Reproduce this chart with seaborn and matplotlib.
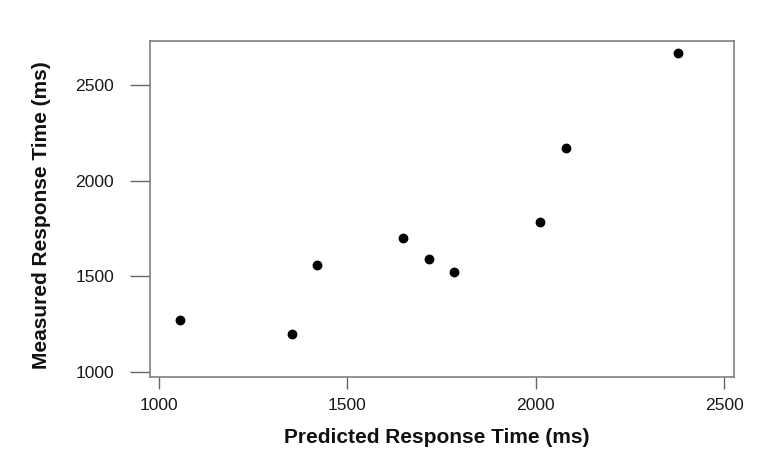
import matplotlib
matplotlib.use("Agg")
import matplotlib.pyplot as plt
import seaborn as sns
import pandas as pd

predicted = [1056, 1352, 1418, 1648, 1716, 1782, 2011, 2080, 2377]
measured = [1271, 1198, 1560, 1698, 1591, 1521, 1785, 2170, 2665]
x_ticks = [1000, 1500, 2000, 2500]
y_ticks = [1000, 1500, 2000, 2500]

df = pd.DataFrame({"Predicted": predicted, "Measured": measured})

sns.set_theme(style="ticks")
plt.rcParams["font.family"] = ["Liberation Sans", "DejaVu Sans"]

fig = plt.figure(figsize=(7.62, 4.66), dpi=100)
ax = fig.add_axes([0.1969, 0.1916, 0.7664, 0.7204])

sns.scatterplot(data=df, x="Predicted", y="Measured", ax=ax, color="black",
                s=50, edgecolor="black", linewidth=0)

ax.set_xlim(976, 2526)
ax.set_ylim(975, 2730)
ax.set_xticks(x_ticks)
ax.set_yticks(y_ticks)
ax.set_xticklabels([str(v) for v in x_ticks])
ax.set_yticklabels([str(v) for v in y_ticks])

for sp in ax.spines.values():
    sp.set_visible(True)
    sp.set_color("#808080")
    sp.set_linewidth(1.2)

ax.tick_params(axis="x", direction="out", length=8.5, width=1.0,
               color="#666666", labelsize=12.6, labelcolor="#1a1a1a", pad=6.5)
ax.tick_params(axis="y", direction="out", length=14.4, width=1.0,
               color="#666666", labelsize=12.6, labelcolor="#1a1a1a", pad=11.5)

ax.set_xlabel("Predicted Response Time (ms)", fontsize=15, fontweight="bold",
              color="#111111", va="center")
ax.set_ylabel("Measured Response Time (ms)", fontsize=15, fontweight="bold",
              color="#111111", va="center")
ax.xaxis.set_label_coords(0.4914, -0.1796)
ax.yaxis.set_label_coords(-0.1866, 0.482)

fig.savefig("out.png", dpi=100)
